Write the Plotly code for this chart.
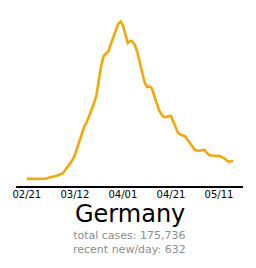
import plotly.graph_objects as go
import pandas as pd

start = "2020-02-21"
values = [5, 6, 7, 8, 8, 9, 9, 10, 10, 40, 70, 90, 105, 130, 160, 200, 315, 420, 525, 665,
          840, 1085, 1365, 1645, 1855, 1995, 2205, 2415, 2660, 2940, 3465, 3990, 4305, 4410, 4480, 4725, 4970, 5215, 5425, 5510,
          5390, 5075, 4760, 4830, 4810, 4690, 4445, 4095, 3745, 3395, 3220, 3240, 3185, 2940, 2660, 2415, 2275, 2170, 2170, 2205,
          2205, 1995, 1750, 1610, 1557, 1522, 1487, 1365, 1242, 1120, 1015, 997, 990, 1015, 1015, 910, 840, 822, 805, 805,
          815, 787, 735, 665, 605, 620, 632]
dates = pd.date_range(start, periods=len(values), freq="D")
tick_dates = ["2020-02-21", "2020-03-12", "2020-04-01", "2020-04-21", "2020-05-11"]
tick_labels = ["02/21", "03/12", "04/01", "04/21", "05/11"]
country = "Germany"
total_cases = "175,736"
recent = "632"

fig = go.Figure()
fig.add_trace(go.Scatter(x=dates, y=values, mode="lines",
                         line=dict(color="#f7a800", width=2.6), hoverinfo="skip"))

fig.update_layout(
    width=256, height=268,
    margin=dict(l=16, r=13, t=10, b=82),
    paper_bgcolor="white", plot_bgcolor="white",
    showlegend=False,
    font=dict(family="DejaVu Sans", color="black"),
    xaxis=dict(range=[pd.Timestamp("2020-02-16 12:00"), pd.Timestamp("2020-05-21")],
               tickvals=pd.to_datetime(tick_dates), ticktext=tick_labels,
               showgrid=False, zeroline=False, showline=True, linecolor="black", linewidth=2,
               ticks="", ticklabelstandoff=-2,
               tickfont=dict(size=10, color="black", family="DejaVu Sans")),
    yaxis=dict(range=[-245, 5915], showgrid=False, zeroline=False, showticklabels=False,
               showline=False, ticks=""),
)

ph = 268 - 10 - 82
def py(ypix):
    return (268 - 82 - ypix) / ph

fig.add_annotation(text=country, x=0.5, xref="paper", y=py(214), yref="paper",
                   showarrow=False, font=dict(size=24, color="black", family="DejaVu Sans"),
                   xanchor="center", yanchor="middle")
fig.add_annotation(text="total cases: " + total_cases + "<br>recent new/day: " + recent,
                   x=0.5, xref="paper", y=py(242.5), yref="paper",
                   showarrow=False, font=dict(size=11, color="#8c8c8c", family="DejaVu Sans"),
                   xanchor="center", yanchor="middle")

fig.write_html("out.html")
